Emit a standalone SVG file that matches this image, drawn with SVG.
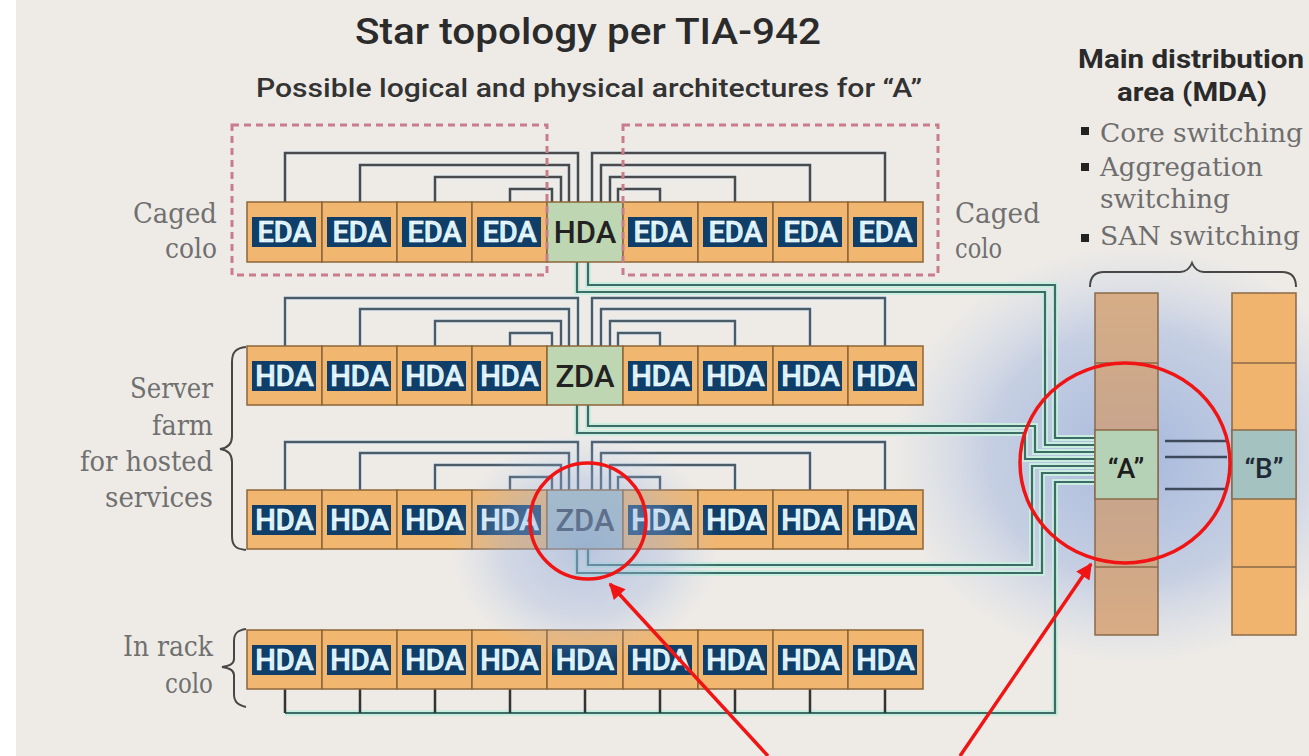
<svg xmlns="http://www.w3.org/2000/svg" width="1309" height="756" viewBox="0 0 1309 756">
<style>
.cell{fill:#f1b66f;stroke:#8d6638;stroke-width:1.5}
.hub{fill:#bed6b2;stroke:#8d6638;stroke-width:1.5}
.lab{fill:#0f3e68}
.lt{font-family:Roboto,"Liberation Sans",sans-serif;font-weight:500;font-size:29px;fill:#d2f0fc;stroke:#ffffff;stroke-width:0.6;text-anchor:middle}
.ht{font-family:Roboto,"Liberation Sans",sans-serif;font-weight:500;font-size:31px;fill:#222;text-anchor:middle}
.side{font-family:"DejaVu Serif","Liberation Serif",serif;font-size:27px;fill:#707070}
.mda{font-family:"DejaVu Serif","Liberation Serif",serif;font-size:26px;fill:#6e6e6e}
.hd{font-family:Roboto,"Liberation Sans",sans-serif;font-weight:700;font-size:26px;fill:#2a2a2a;text-anchor:middle}
.gray{fill:none;stroke:#4a4a4a;stroke-width:2.5}
.blu{fill:none;stroke:#4b5b68;stroke-width:2.4}
.halo{fill:none;stroke:#e6eef3;stroke-width:5}
.gh{fill:none;stroke:#c9eee0;stroke-width:6}
.gl{fill:none;stroke:#3d6c67;stroke-width:2.2}
.cage{fill:none;stroke:#c97c89;stroke-width:3;stroke-dasharray:7 5}
.brace{fill:none;stroke:#474747;stroke-width:2}
.red{fill:none;stroke:#f01414;stroke-width:3.5}
.mc{stroke:#8a6a48;stroke-width:1.5}
</style>
<defs>
<radialGradient id="hz" cx="50%" cy="50%" r="50%">
<stop offset="0" stop-color="#8ea7d8" stop-opacity="0.75"/>
<stop offset="0.6" stop-color="#9db3de" stop-opacity="0.5"/>
<stop offset="1" stop-color="#b8c8e6" stop-opacity="0"/>
</radialGradient>
<radialGradient id="hz2" cx="50%" cy="50%" r="50%">
<stop offset="0" stop-color="#8ea7d8" stop-opacity="0.55"/>
<stop offset="0.6" stop-color="#9db3de" stop-opacity="0.35"/>
<stop offset="1" stop-color="#b8c8e6" stop-opacity="0"/>
</radialGradient>
<linearGradient id="colA" x1="0" y1="0" x2="0" y2="1">
<stop offset="0" stop-color="#d6ad86"/>
<stop offset="0.5" stop-color="#c4a38e"/>
<stop offset="1" stop-color="#d8ac84"/>
</linearGradient>
<marker id="ah2" viewBox="0 0 10 10" markerWidth="18" markerHeight="16" refX="9" refY="5" orient="auto" markerUnits="userSpaceOnUse">
<path d="M0,0 L10,5 L0,10 Z" fill="#f01414"/>
</marker>
</defs>
<rect x="0" y="0" width="1309" height="756" fill="#eeebe7"/>
<rect x="0" y="0" width="16" height="756" fill="#ffffff"/>
<ellipse cx="1135" cy="455" rx="245" ry="210" fill="url(#hz)"/>

<!-- titles -->
<text x="588" y="44" font-family="Roboto,'Liberation Sans',sans-serif" font-weight="500" font-size="36" fill="#2b2b2b" text-anchor="middle" textLength="466" lengthAdjust="spacingAndGlyphs">Star topology per TIA-942</text>
<text x="589" y="97" font-family="Roboto,'Liberation Sans',sans-serif" font-weight="500" font-size="25" fill="#333" text-anchor="middle" textLength="666" lengthAdjust="spacingAndGlyphs">Possible logical and physical architectures for “A”</text>

<!-- MDA heading -->
<text class="hd" x="1191" y="68" textLength="226" lengthAdjust="spacingAndGlyphs">Main distribution</text>
<text class="hd" x="1192" y="101" textLength="150" lengthAdjust="spacingAndGlyphs">area (MDA)</text>
<rect x="1081" y="127" width="8" height="8" fill="#222"/>
<text class="mda" x="1100" y="142" textLength="203" lengthAdjust="spacingAndGlyphs">Core switching</text>
<rect x="1081" y="163" width="8" height="8" fill="#222"/>
<text class="mda" x="1100" y="176" textLength="163" lengthAdjust="spacingAndGlyphs">Aggregation</text>
<text class="mda" x="1100" y="208" textLength="130" lengthAdjust="spacingAndGlyphs">switching</text>
<rect x="1081" y="234" width="8" height="8" fill="#222"/>
<text class="mda" x="1100" y="245" textLength="200" lengthAdjust="spacingAndGlyphs">SAN switching</text>
<path class="brace" d="M1090 287 C1090 277 1094 272 1104 272 L1180 272 C1187 272 1190 268 1192 263 C1194 268 1197 272 1204 272 L1282 272 C1292 272 1296 277 1296 287"/>

<!-- side labels -->
<text class="side" x="217" y="223" text-anchor="end" textLength="84" lengthAdjust="spacingAndGlyphs">Caged</text>
<text class="side" x="217" y="258" text-anchor="end" textLength="52" lengthAdjust="spacingAndGlyphs">colo</text>
<text class="side" x="955" y="223" textLength="85" lengthAdjust="spacingAndGlyphs">Caged</text>
<text class="side" x="955" y="258" textLength="47" lengthAdjust="spacingAndGlyphs">colo</text>
<text class="side" x="213" y="398" text-anchor="end" textLength="83" lengthAdjust="spacingAndGlyphs">Server</text>
<text class="side" x="213" y="435" text-anchor="end" textLength="61" lengthAdjust="spacingAndGlyphs">farm</text>
<text class="side" x="213" y="471" text-anchor="end" textLength="133" lengthAdjust="spacingAndGlyphs">for hosted</text>
<text class="side" x="213" y="507" text-anchor="end" textLength="108" lengthAdjust="spacingAndGlyphs">services</text>
<text class="side" x="213" y="656" text-anchor="end" textLength="90" lengthAdjust="spacingAndGlyphs">In rack</text>
<text class="side" x="213" y="693" text-anchor="end" textLength="48" lengthAdjust="spacingAndGlyphs">colo</text>
<path class="brace" d="M246 347 C236 348 232 352 232 362 L232 436 C232 444 228 448 220 449 C228 450 232 454 232 462 L232 536 C232 546 236 549 246 550"/>
<path class="brace" d="M246 629 C238 630 234 633 234 641 L234 659 C234 664 230 666 222 667 C230 668 234 670 234 675 L234 694 C234 702 238 705 246 707"/>

<!-- connectors -->
<g id="connectors">
<g id="row1-links">
<path class="halo" d="M285 202V153H578V202M360 202V165H569V202M435 202V177H561V202M510 202V189H552V202M592 202V153H885V202M601 202V165H810V202M610 202V177H735V202M618 202V189H660V202"/>
<path class="gray" d="M285 202V153H578V202M360 202V165H569V202M435 202V177H561V202M510 202V189H552V202M592 202V153H885V202M601 202V165H810V202M610 202V177H735V202M618 202V189H660V202"/>
</g>
<g id="row2-links">
<path class="halo" d="M285 346V298H578V346M360 346V309H569V346M435 346V321H561V346M510 346V333H552V346M592 346V298H885V346M601 346V309H810V346M610 346V321H735V346M618 346V333H660V346"/>
<path class="blu" d="M285 346V298H578V346M360 346V309H569V346M435 346V321H561V346M510 346V333H552V346M592 346V298H885V346M601 346V309H810V346M610 346V321H735V346M618 346V333H660V346"/>
</g>
<g id="row3-links">
<path class="halo" d="M285 490V442H578V490M360 490V453H569V490M435 490V465H561V490M510 490V477H552V490M592 490V442H885V490M601 490V453H810V490M610 490V465H735V490M618 490V477H660V490"/>
<path class="blu" d="M285 490V442H578V490M360 490V453H569V490M435 490V465H561V490M510 490V477H552V490M592 490V442H885V490M601 490V453H810V490M610 490V465H735V490M618 490V477H660V490"/>
</g>
<g id="uplinks">
<path class="gh" d="M588 261V285H1055V438H1095M577 261V292H1045V445H1095M588 405V426H1035V452H1095M577 405V433H1025V459H1095M588 549V565H1032V466H1095M577 549V573H1042V473H1095M285 713H1055V482H1095"/>
<path class="gl" d="M588 261V285H1055V438H1095M577 261V292H1045V445H1095M588 405V426H1035V452H1095M577 405V433H1025V459H1095M588 549V565H1032V466H1095M577 549V573H1042V473H1095M285 713H1055V482H1095"/>
<path fill="none" stroke="#333" stroke-width="2.5" d="M285 689V713M360 689V713M435 689V713M510 689V713M585 689V713M660 689V713M735 689V713M810 689V713M885 689V713"/>
</g>
<g id="ab-links">
<path fill="none" stroke="#3e4a5c" stroke-width="2.5" d="M1165 441H1227M1165 457H1227M1165 489H1227"/>
</g>
</g>

<!-- row 1 -->
<g id="row1">
<g id="r1c1"><rect class="cell" x="247" y="202" width="75" height="60"/><rect class="lab" x="252" y="217" width="64" height="30"/><text class="lt" x="284.5" y="242">EDA</text></g>
<g id="r1c2"><rect class="cell" x="322" y="202" width="75" height="60"/><rect class="lab" x="327" y="217" width="64" height="30"/><text class="lt" x="359.5" y="242">EDA</text></g>
<g id="r1c3"><rect class="cell" x="397" y="202" width="75" height="60"/><rect class="lab" x="402" y="217" width="64" height="30"/><text class="lt" x="434.5" y="242">EDA</text></g>
<g id="r1c4"><rect class="cell" x="472" y="202" width="75" height="60"/><rect class="lab" x="477" y="217" width="64" height="30"/><text class="lt" x="509.5" y="242">EDA</text></g>
<g id="r1hda"><rect class="hub" x="547" y="202" width="76" height="60"/><text class="ht" x="585" y="243">HDA</text></g>
<g id="r1c6"><rect class="cell" x="623" y="202" width="75" height="60"/><rect class="lab" x="628" y="217" width="64" height="30"/><text class="lt" x="660.5" y="242">EDA</text></g>
<g id="r1c7"><rect class="cell" x="698" y="202" width="75" height="60"/><rect class="lab" x="703" y="217" width="64" height="30"/><text class="lt" x="735.5" y="242">EDA</text></g>
<g id="r1c8"><rect class="cell" x="773" y="202" width="75" height="60"/><rect class="lab" x="778" y="217" width="64" height="30"/><text class="lt" x="810.5" y="242">EDA</text></g>
<g id="r1c9"><rect class="cell" x="848" y="202" width="75" height="60"/><rect class="lab" x="853" y="217" width="64" height="30"/><text class="lt" x="885.5" y="242">EDA</text></g>
</g>
<rect class="cage" x="232" y="125" width="315" height="150"/>
<rect class="cage" x="623" y="125" width="315" height="150"/>

<!-- row 2 -->
<g id="row2">
<g id="r2c1"><rect class="cell" x="247" y="346" width="75" height="59"/><rect class="lab" x="252" y="361" width="64" height="30"/><text class="lt" x="284.5" y="386">HDA</text></g>
<g id="r2c2"><rect class="cell" x="322" y="346" width="75" height="59"/><rect class="lab" x="327" y="361" width="64" height="30"/><text class="lt" x="359.5" y="386">HDA</text></g>
<g id="r2c3"><rect class="cell" x="397" y="346" width="75" height="59"/><rect class="lab" x="402" y="361" width="64" height="30"/><text class="lt" x="434.5" y="386">HDA</text></g>
<g id="r2c4"><rect class="cell" x="472" y="346" width="75" height="59"/><rect class="lab" x="477" y="361" width="64" height="30"/><text class="lt" x="509.5" y="386">HDA</text></g>
<g id="r2zda"><rect class="hub" x="547" y="346" width="76" height="59"/><text class="ht" x="585" y="387">ZDA</text></g>
<g id="r2c6"><rect class="cell" x="623" y="346" width="75" height="59"/><rect class="lab" x="628" y="361" width="64" height="30"/><text class="lt" x="660.5" y="386">HDA</text></g>
<g id="r2c7"><rect class="cell" x="698" y="346" width="75" height="59"/><rect class="lab" x="703" y="361" width="64" height="30"/><text class="lt" x="735.5" y="386">HDA</text></g>
<g id="r2c8"><rect class="cell" x="773" y="346" width="75" height="59"/><rect class="lab" x="778" y="361" width="64" height="30"/><text class="lt" x="810.5" y="386">HDA</text></g>
<g id="r2c9"><rect class="cell" x="848" y="346" width="75" height="59"/><rect class="lab" x="853" y="361" width="64" height="30"/><text class="lt" x="885.5" y="386">HDA</text></g>
</g>

<!-- row 3 -->
<g id="row3">
<g id="r3c1"><rect class="cell" x="247" y="490" width="75" height="59"/><rect class="lab" x="252" y="505" width="64" height="30"/><text class="lt" x="284.5" y="530">HDA</text></g>
<g id="r3c2"><rect class="cell" x="322" y="490" width="75" height="59"/><rect class="lab" x="327" y="505" width="64" height="30"/><text class="lt" x="359.5" y="530">HDA</text></g>
<g id="r3c3"><rect class="cell" x="397" y="490" width="75" height="59"/><rect class="lab" x="402" y="505" width="64" height="30"/><text class="lt" x="434.5" y="530">HDA</text></g>
<g id="r3c4"><rect class="cell" x="472" y="490" width="75" height="59"/><rect class="lab" x="477" y="505" width="64" height="30"/><text class="lt" x="509.5" y="530">HDA</text></g>
<g id="r3zda"><rect class="hub" x="547" y="490" width="76" height="59" style="fill:#a9c0c2"/><text class="ht" x="585" y="531" style="fill:#2f3d4a">ZDA</text></g>
<g id="r3c6"><rect class="cell" x="623" y="490" width="75" height="59"/><rect class="lab" x="628" y="505" width="64" height="30"/><text class="lt" x="660.5" y="530">HDA</text></g>
<g id="r3c7"><rect class="cell" x="698" y="490" width="75" height="59"/><rect class="lab" x="703" y="505" width="64" height="30"/><text class="lt" x="735.5" y="530">HDA</text></g>
<g id="r3c8"><rect class="cell" x="773" y="490" width="75" height="59"/><rect class="lab" x="778" y="505" width="64" height="30"/><text class="lt" x="810.5" y="530">HDA</text></g>
<g id="r3c9"><rect class="cell" x="848" y="490" width="75" height="59"/><rect class="lab" x="853" y="505" width="64" height="30"/><text class="lt" x="885.5" y="530">HDA</text></g>
</g>

<!-- row 4 -->
<g id="row4">
<g id="r4c1"><rect class="cell" x="247" y="630" width="75" height="59"/><rect class="lab" x="252" y="645" width="64" height="30"/><text class="lt" x="284.5" y="670">HDA</text></g>
<g id="r4c2"><rect class="cell" x="322" y="630" width="75" height="59"/><rect class="lab" x="327" y="645" width="64" height="30"/><text class="lt" x="359.5" y="670">HDA</text></g>
<g id="r4c3"><rect class="cell" x="397" y="630" width="75" height="59"/><rect class="lab" x="402" y="645" width="64" height="30"/><text class="lt" x="434.5" y="670">HDA</text></g>
<g id="r4c4"><rect class="cell" x="472" y="630" width="75" height="59"/><rect class="lab" x="477" y="645" width="64" height="30"/><text class="lt" x="509.5" y="670">HDA</text></g>
<g id="r4c5"><rect class="cell" x="547" y="630" width="76" height="59"/><rect class="lab" x="552" y="645" width="65" height="30"/><text class="lt" x="585" y="670">HDA</text></g>
<g id="r4c6"><rect class="cell" x="623" y="630" width="75" height="59"/><rect class="lab" x="628" y="645" width="64" height="30"/><text class="lt" x="660.5" y="670">HDA</text></g>
<g id="r4c7"><rect class="cell" x="698" y="630" width="75" height="59"/><rect class="lab" x="703" y="645" width="64" height="30"/><text class="lt" x="735.5" y="670">HDA</text></g>
<g id="r4c8"><rect class="cell" x="773" y="630" width="75" height="59"/><rect class="lab" x="778" y="645" width="64" height="30"/><text class="lt" x="810.5" y="670">HDA</text></g>
<g id="r4c9"><rect class="cell" x="848" y="630" width="75" height="59"/><rect class="lab" x="853" y="645" width="64" height="30"/><text class="lt" x="885.5" y="670">HDA</text></g>
</g>

<!-- MDA columns -->
<g id="mda-a">
<rect x="1095" y="293" width="63" height="342" fill="url(#colA)" class="mc"/>
<rect x="1095" y="430" width="63" height="69" fill="#b6d2b6" class="mc"/>
<path class="mc" d="M1095 363H1158M1095 567H1158"/>
<text class="ht" x="1126" y="478" style="font-size:28px;fill:#1e1e1e">“A”</text>
</g>
<g id="mda-b">
<rect x="1232" y="293" width="64" height="342" fill="#f0b46e" class="mc"/>
<rect x="1232" y="430" width="64" height="69" fill="#a4c2c0" class="mc"/>
<path class="mc" d="M1232 363H1296M1232 567H1296"/>
<text class="ht" x="1264" y="478" style="font-size:28px;fill:#1e2a36">“B”</text>
</g>

<!-- haze over server farm zone -->
<ellipse cx="585" cy="548" rx="135" ry="115" fill="url(#hz2)"/>

<!-- annotations -->
<g id="annotations">
<circle class="red" cx="588" cy="521" r="58"/>
<ellipse class="red" cx="1125" cy="463" rx="105" ry="100"/>
<line class="red" x1="768" y1="756" x2="610" y2="584" marker-end="url(#ah2)"/>
<line class="red" x1="960" y1="756" x2="1091" y2="564" marker-end="url(#ah2)"/>
</g>
</svg>
